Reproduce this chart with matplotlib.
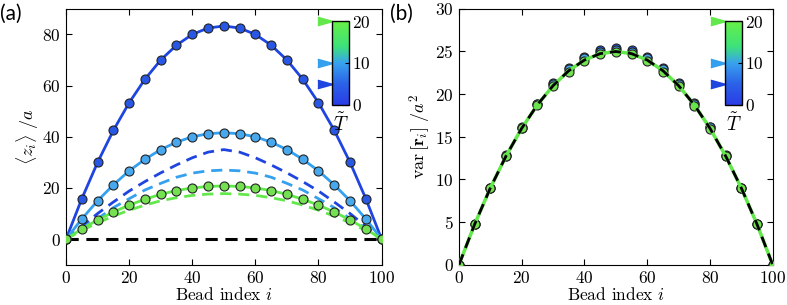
import numpy as np
import matplotlib
matplotlib.use("Agg")
import matplotlib.pyplot as plt
from matplotlib.colors import LinearSegmentedColormap, Normalize

plt.rcParams['font.family'] = ['cmr10', 'DejaVu Serif']
plt.rcParams['mathtext.fontset'] = 'cm'
plt.rcParams['axes.formatter.use_mathtext'] = True
plt.rcParams['font.size'] = 12

beads = [0, 5, 10, 15, 20, 25, 30, 35, 40, 45, 50, 55, 60, 65, 70, 75, 80, 85, 90, 95, 100]
temps = [5, 10, 20]

# panel (a): simulated mean height (markers + solid line)
z_sim = {
    5: [0, 15.8, 30, 42.5, 53.3, 62.5, 70, 75.8, 80, 82.5, 83.3, 82.5, 80, 75.8, 70, 62.5, 53.3, 42.5, 30, 15.8, 0],
    10: [0, 7.9, 15, 21.2, 26.7, 31.2, 35, 37.9, 40, 41.2, 41.6, 41.2, 40, 37.9, 35, 31.2, 26.7, 21.2, 15, 7.9, 0],
    20: [0, 4, 7.5, 10.6, 13.3, 15.6, 17.5, 19, 20, 20.6, 20.8, 20.6, 20, 19, 17.5, 15.6, 13.3, 10.6, 7.5, 4, 0],
}
# panel (a): approximation (dashed)
z_approx = {
    5: [0, 5, 10, 14.5, 18.8, 22.5, 25.9, 29, 31.8, 34, 35, 34, 31.8, 29, 25.9, 22.5, 18.8, 14.5, 10, 5, 0],
    10: [0, 4.2, 8, 12.3, 15.8, 19.2, 21.8, 24.2, 25.8, 26.7, 27, 26.7, 25.8, 24.2, 21.8, 19.2, 15.8, 12.3, 8, 4.2, 0],
    20: [0, 3.4, 6.4, 9, 11.3, 13.3, 15, 16.2, 17.1, 17.6, 17.8, 17.6, 17.1, 16.2, 15, 13.3, 11.3, 9, 6.4, 3.4, 0],
}
z_zero = [0] * 21

# panel (b): variance
var_sim = {
    5: [0, 4.8, 9.05, 12.85, 16.1, 18.9, 21.3, 23.05, 24.4, 25.15, 25.4, 25.15, 24.4, 23.1, 21.3, 19.0, 16.2, 12.9, 9.05, 4.8, 0],
    10: [0, 4.78, 9.02, 12.8, 16.05, 18.82, 21.15, 22.9, 24.2, 24.95, 25.2, 24.95, 24.2, 22.9, 21.15, 18.85, 16.1, 12.8, 9.02, 4.78, 0],
    20: [0, 4.75, 9, 12.75, 16, 18.75, 21, 22.65, 23.9, 24.65, 24.9, 24.65, 23.9, 22.65, 20.9, 18.65, 15.95, 12.75, 9, 4.75, 0],
}
var_theory = [0, 4.75, 9, 12.75, 16, 18.75, 21, 22.75, 24, 24.75, 25, 24.75, 24, 22.75, 21, 18.75, 16, 12.75, 9, 4.75, 0]

cmap = LinearSegmentedColormap.from_list(
    'tcmap', [(0.0, '#2a3ce6'), (0.25, '#2b62e8'), (0.5, '#38a2ee'), (0.7, '#3de27a'), (1.0, '#66f046')])
norm = Normalize(0, 20)
line_col = {5: '#1f45e0', 10: '#35a0ee', 20: '#62e84a'}
mark_col = {5: '#2757e4', 10: '#48a8ee', 20: '#74e052'}

fig = plt.figure(figsize=(7.87, 3.05), dpi=100)
ax1 = fig.add_axes([0.0839, 0.132, 0.401, 0.839])
ax2 = fig.add_axes([0.5832, 0.132, 0.3986, 0.839])

for ax in (ax1, ax2):
    ax.tick_params(direction='in', top=True, right=True, length=4, width=0.8, labelsize=12.5, pad=4)
    ax.set_xlim(0, 100)
    ax.set_xticks([0, 20, 40, 60, 80, 100])
    ax.set_xlabel('Bead index $i$', labelpad=0, fontsize=12.5)

# (a)
ax1.plot(beads, z_zero, color='black', lw=2.2, dashes=(4, 2.5), zorder=2)
for T in temps:
    ax1.plot(beads, z_approx[T], color=line_col[T], lw=2, dashes=(4, 2.5), zorder=2)
for T in temps:
    ax1.plot(beads, z_sim[T], color=line_col[T], lw=2, zorder=3)
    ax1.plot(beads, z_sim[T], 'o', ms=6.5, mfc=mark_col[T], mec='#222222', mew=0.8, zorder=4)
ax1.set_ylim(-10, 90)
ax1.set_yticks([0, 20, 40, 60, 80])
ax1.set_ylabel(r'$\langle z_i \rangle\ /a$', labelpad=1, fontsize=13)

# (b)
for T in temps:
    ax2.plot(beads, var_sim[T], 'o', ms=6.5, mfc=mark_col[T], mec='#222222', mew=0.8, zorder=3)
ax2.plot(beads, var_theory, color=line_col[20], lw=2.5, zorder=4)
ax2.plot(beads, var_theory, color='black', lw=2, dashes=(4, 2.5), zorder=5)
ax2.set_ylim(0, 30)
ax2.set_yticks([0, 5, 10, 15, 20, 25, 30])
ax2.set_ylabel(r'$\mathrm{var}\,[\mathbf{r}_i]\ /a^2$', labelpad=1, fontsize=13)

# colorbar insets
for left in (332 / 787, 725 / 787):
    cax = fig.add_axes([left, (305 - 104.7) / 305, 17 / 787, 83.4 / 305])
    sm = matplotlib.cm.ScalarMappable(norm=norm, cmap=cmap)
    cb = fig.colorbar(sm, cax=cax, ticks=[0, 10, 20])
    cb.outline.set_linewidth(1)
    cax.tick_params(direction='in', length=3, width=0.8, pad=2, labelsize=12.5)
    cax.text(0.5, -0.1, r'$\tilde{T}$', transform=cax.transAxes, ha='center', va='top', fontsize=14)
    for T in temps:
        cax.plot(-0.42, T, marker=[(-1, -0.55), (1, 0), (-1, 0.55)], ms=11, color=line_col[T],
                 transform=cax.get_yaxis_transform(), clip_on=False)

fig.text(0.0, 0.955, '(a)', fontsize=15, family=['Lato', 'DejaVu Sans'], va='center')
fig.text(0.496, 0.955, '(b)', fontsize=15, family=['Lato', 'DejaVu Sans'], va='center')

fig.savefig('out.png', dpi=100)
